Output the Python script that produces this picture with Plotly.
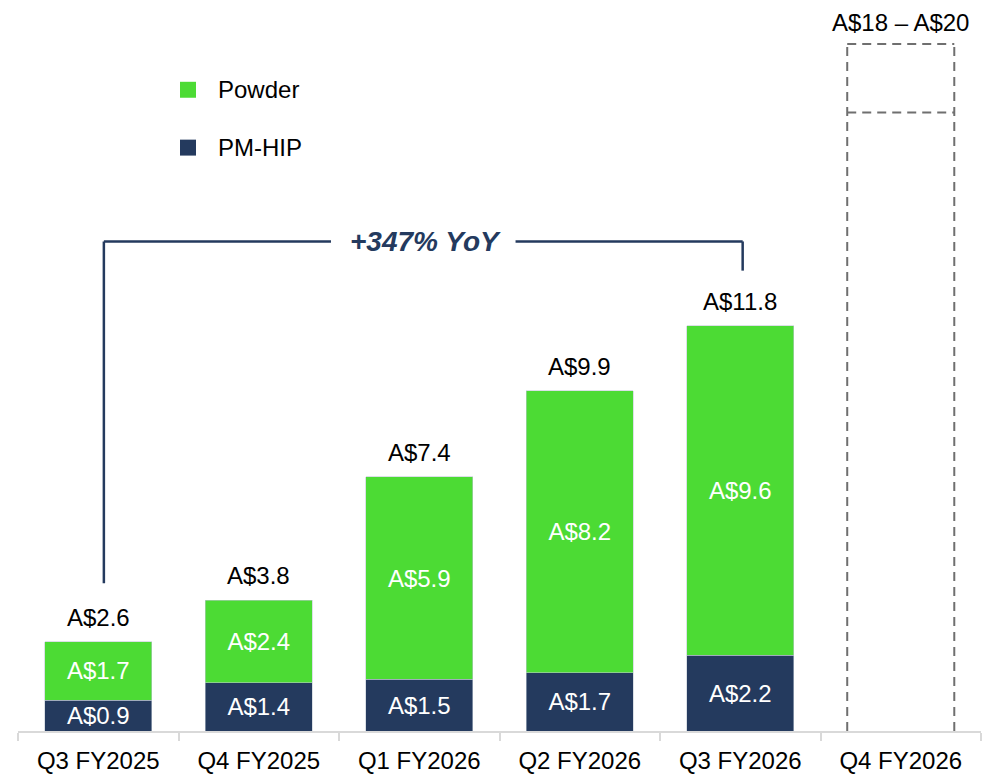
import plotly.graph_objects as go

categories = ["Q3 FY2025", "Q4 FY2025", "Q1 FY2026", "Q2 FY2026", "Q3 FY2026", "Q4 FY2026"]
pmhip = [0.9, 1.4, 1.5, 1.7, 2.2, None]
powder = [1.7, 2.4, 5.9, 8.2, 9.6, None]
totals = [2.6, 3.8, 7.4, 9.9, 11.8, None]
guidance_low = 18
guidance_high = 20
guidance_label = "A$18 – A$20"
growth_label = "+347% YoY"

NAVY = "#243A5E"
GREEN = "#4CDB34"
FONT = "Liberation Sans, Arial, sans-serif"
FS = 24
BAR_W = 0.667
EDGE = dict(width=0.8, color="rgba(190,200,210,0.7)")

def fmt(v):
    return "" if v is None else f"A${v:.1f}"

fig = go.Figure()
fig.add_trace(go.Bar(
    x=categories, y=pmhip, name="PM-HIP", marker=dict(color=NAVY, line=EDGE),
    width=BAR_W, text=[fmt(v) for v in pmhip], textposition="inside",
    insidetextanchor="middle", constraintext="none",
    textfont=dict(color="white", size=FS, family=FONT), hoverinfo="skip"))
fig.add_trace(go.Bar(
    x=categories, y=powder, name="Powder", marker=dict(color=GREEN, line=EDGE),
    width=BAR_W, text=[fmt(v) for v in powder], textposition="inside",
    insidetextanchor="middle", constraintext="none",
    textfont=dict(color="white", size=FS, family=FONT), hoverinfo="skip"))

# totals
for cat, t in zip(categories, totals):
    yv = t if t is not None else guidance_high
    txt = fmt(t) if t is not None else guidance_label
    fig.add_annotation(x=cat, y=yv, xref="x", yref="y", text=txt, showarrow=False,
                       xanchor="center", yanchor="bottom", yshift=9 if t is not None else 6,
                       font=dict(color="black", size=FS, family=FONT))

# guidance dashed boxes (lower box open at the baseline)
gi = len(categories) - 1
gx0, gx1 = gi - BAR_W / 2, gi + BAR_W / 2
dash_line = dict(color="#6F6F6F", width=2, dash="9px,6px")
segments = [
    (gx0, 0, gx0, guidance_high),
    (gx1, 0, gx1, guidance_high),
    (gx0, guidance_low, gx1, guidance_low),
    (gx0, guidance_high, gx1, guidance_high),
]
for x0, y0, x1, y1 in segments:
    fig.add_shape(type="line", xref="x", yref="y", x0=x0, y0=y0, x1=x1, y1=y1, line=dash_line)

# growth bracket
i0, i1 = 0, 4
by = 14.25
lw = 2.5
fig.add_shape(type="line", xref="x", yref="y", x0=i0 + 0.035, x1=i0 + 0.035, y0=4.3, y1=by,
              line=dict(color=NAVY, width=lw))
fig.add_shape(type="line", xref="x", yref="y", x0=i0 + 0.035, x1=1.45, y0=by, y1=by,
              line=dict(color=NAVY, width=lw))
fig.add_shape(type="line", xref="x", yref="y", x0=2.6, x1=i1 + 0.015, y0=by, y1=by,
              line=dict(color=NAVY, width=lw))
fig.add_shape(type="line", xref="x", yref="y", x0=i1 + 0.015, x1=i1 + 0.015, y0=13.4, y1=by,
              line=dict(color=NAVY, width=lw))
fig.add_annotation(x=2.04, y=by, xref="x", yref="y", text="<b><i>" + growth_label + "</i></b>",
                   showarrow=False, font=dict(color=NAVY, size=28, family=FONT),
                   xanchor="center", yanchor="middle")

# legend (custom), positions given in screen pixels
L = 18; W = 963; TOP = 8; BASE = 733
def px(x): return (x - L) / W
def py(y): return (BASE - y) / (BASE - TOP)
for (yc, color, label) in [(90, GREEN, "Powder"), (148, NAVY, "PM-HIP")]:
    fig.add_shape(type="rect", xref="paper", yref="paper",
                  x0=px(180), x1=px(196), y0=py(yc + 8), y1=py(yc - 8),
                  fillcolor=color, line=dict(width=0))
    fig.add_annotation(xref="paper", yref="paper", x=px(216), y=py(yc), text=label,
                       showarrow=False, xanchor="left", yanchor="middle",
                       font=dict(color="black", size=FS, family=FONT))

fig.update_layout(
    barmode="stack", width=984, height=766,
    margin=dict(l=10, r=11, t=0, b=41),
    plot_bgcolor="white", paper_bgcolor="white", showlegend=False,
    font=dict(family=FONT, size=FS, color="black"),
)
fig.update_xaxes(type="category", range=[-0.5, 5.5], showline=True, linecolor="#D9D9D9",
                 linewidth=2, ticks="outside", tickson="boundaries", ticklen=8,
                 tickcolor="#D9D9D9", tickwidth=2, showgrid=False, ticklabelstandoff=7,
                 tickfont=dict(size=FS, family=FONT, color="black"))
fig.update_yaxes(range=[0, 725 / 34.45], visible=False, showgrid=False, zeroline=False)

fig.write_html("out.html")
